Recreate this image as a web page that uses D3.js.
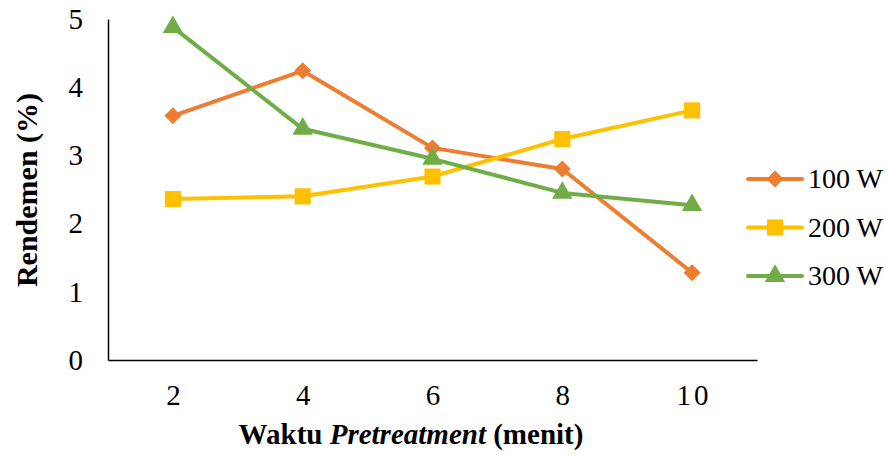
<!DOCTYPE html>
<html>
<head>
<meta charset="utf-8">
<script src="https://cdn.jsdelivr.net/npm/d3@7"></script>
<style>
  body { margin: 0; background: #fff; }
  text { font-family: "Liberation Serif", "Times New Roman", serif; }
</style>
</head>
<body>
<div class="chart"></div>
<script>
// data
const waktu = ["2", "4", "6", "8", "10"];
const yTicks = [0, 1, 2, 3, 4, 5];
const seriesNames = ["100 W", "200 W", "300 W"];
const w100 = [3.58, 4.24, 3.11, 2.80, 1.28];
const w200 = [2.36, 2.40, 2.69, 3.24, 3.66];
const w300 = [4.88, 3.39, 2.95, 2.45, 2.27];
const colors = ["#ED7D31", "#FFC000", "#70AD47"];
const symbols = [d3.symbolDiamond2, d3.symbolSquare, d3.symbolTriangle];
const symbolSizes = [185, 260, 180];

const series = [w100, w200, w300].map((vals, i) => ({
  name: seriesNames[i],
  color: colors[i],
  symbol: symbols[i],
  size: symbolSizes[i],
  values: vals.map((v, j) => ({ x: waktu[j], y: v }))
}));

const width = 885, height = 455;
const margin = { top: 19, right: 128, bottom: 95, left: 108 };
const innerW = width - margin.left - margin.right,
  innerH = height - margin.top - margin.bottom;

const svg = d3.select(".chart").append("svg")
  .attr("width", width)
  .attr("height", height);

const g = svg.append("g")
  .attr("transform", `translate(${margin.left},${margin.top})`);

const xScale = d3.scalePoint().domain(waktu).range([0, innerW]).padding(0.5);
const yScale = d3.scaleLinear().domain([0, 5]).range([innerH, 0]);

// axes
const xAxis = g.append("g")
  .attr("transform", `translate(0,${innerH})`)
  .call(d3.axisBottom(xScale).tickSize(0).tickPadding(24));
const yAxis = g.append("g")
  .call(d3.axisLeft(yScale).tickValues(yTicks).tickFormat(d3.format("d")).tickSize(0).tickPadding(25));

[xAxis, yAxis].forEach(a => {
  a.select(".domain").attr("stroke", "#000").attr("stroke-width", 1.5);
  a.selectAll("text").attr("font-size", "29px").attr("fill", "#000")
    .style("font-family", "'Liberation Serif', serif");
});
xAxis.selectAll("text")
  .attr("letter-spacing", (d) => d === "10" ? "3px" : null)
  .attr("dx", (d) => d === "10" ? "1.5px" : null);

// lines
const line = d3.line().x(d => xScale(d.x)).y(d => yScale(d.y));

series.forEach(s => {
  g.append("path")
    .datum(s.values)
    .attr("fill", "none")
    .attr("stroke", s.color)
    .attr("stroke-width", 4)
    .attr("stroke-linejoin", "round")
    .attr("d", line);
});

series.forEach(s => {
  g.selectAll(null)
    .data(s.values)
    .join("path")
    .attr("transform", d => `translate(${xScale(d.x)},${yScale(d.y)})`)
    .attr("d", d3.symbol().type(s.symbol).size(s.size))
    .attr("fill", s.color);
});

// axis titles
svg.append("text")
  .attr("transform", "translate(37,190) rotate(-90)")
  .attr("text-anchor", "middle")
  .attr("font-size", "30px")
  .attr("font-weight", "bold")
  .text("Rendemen (%)");

const xt = svg.append("text")
  .attr("x", 411)
  .attr("y", 444)
  .attr("text-anchor", "middle")
  .attr("font-size", "29px")
  .attr("font-weight", "bold");
xt.append("tspan").text("Waktu ");
xt.append("tspan").attr("font-style", "italic").text("Pretreatment");
xt.append("tspan").text(" (menit)");

// legend
const legend = svg.append("g").attr("transform", "translate(748,179)");
series.forEach((s, i) => {
  const lg = legend.append("g").attr("transform", `translate(0,${i * 48.5})`);
  lg.append("line")
    .attr("x1", 0).attr("x2", 54)
    .attr("stroke", s.color).attr("stroke-width", 4)
    .attr("stroke-linecap", "round");
  lg.append("path")
    .attr("transform", "translate(27,0)")
    .attr("d", d3.symbol().type(s.symbol).size(s.size))
    .attr("fill", s.color);
  lg.append("text")
    .attr("x", 60).attr("y", 9)
    .attr("font-size", "28px")
    .text(s.name);
});
</script>
</body>
</html>
